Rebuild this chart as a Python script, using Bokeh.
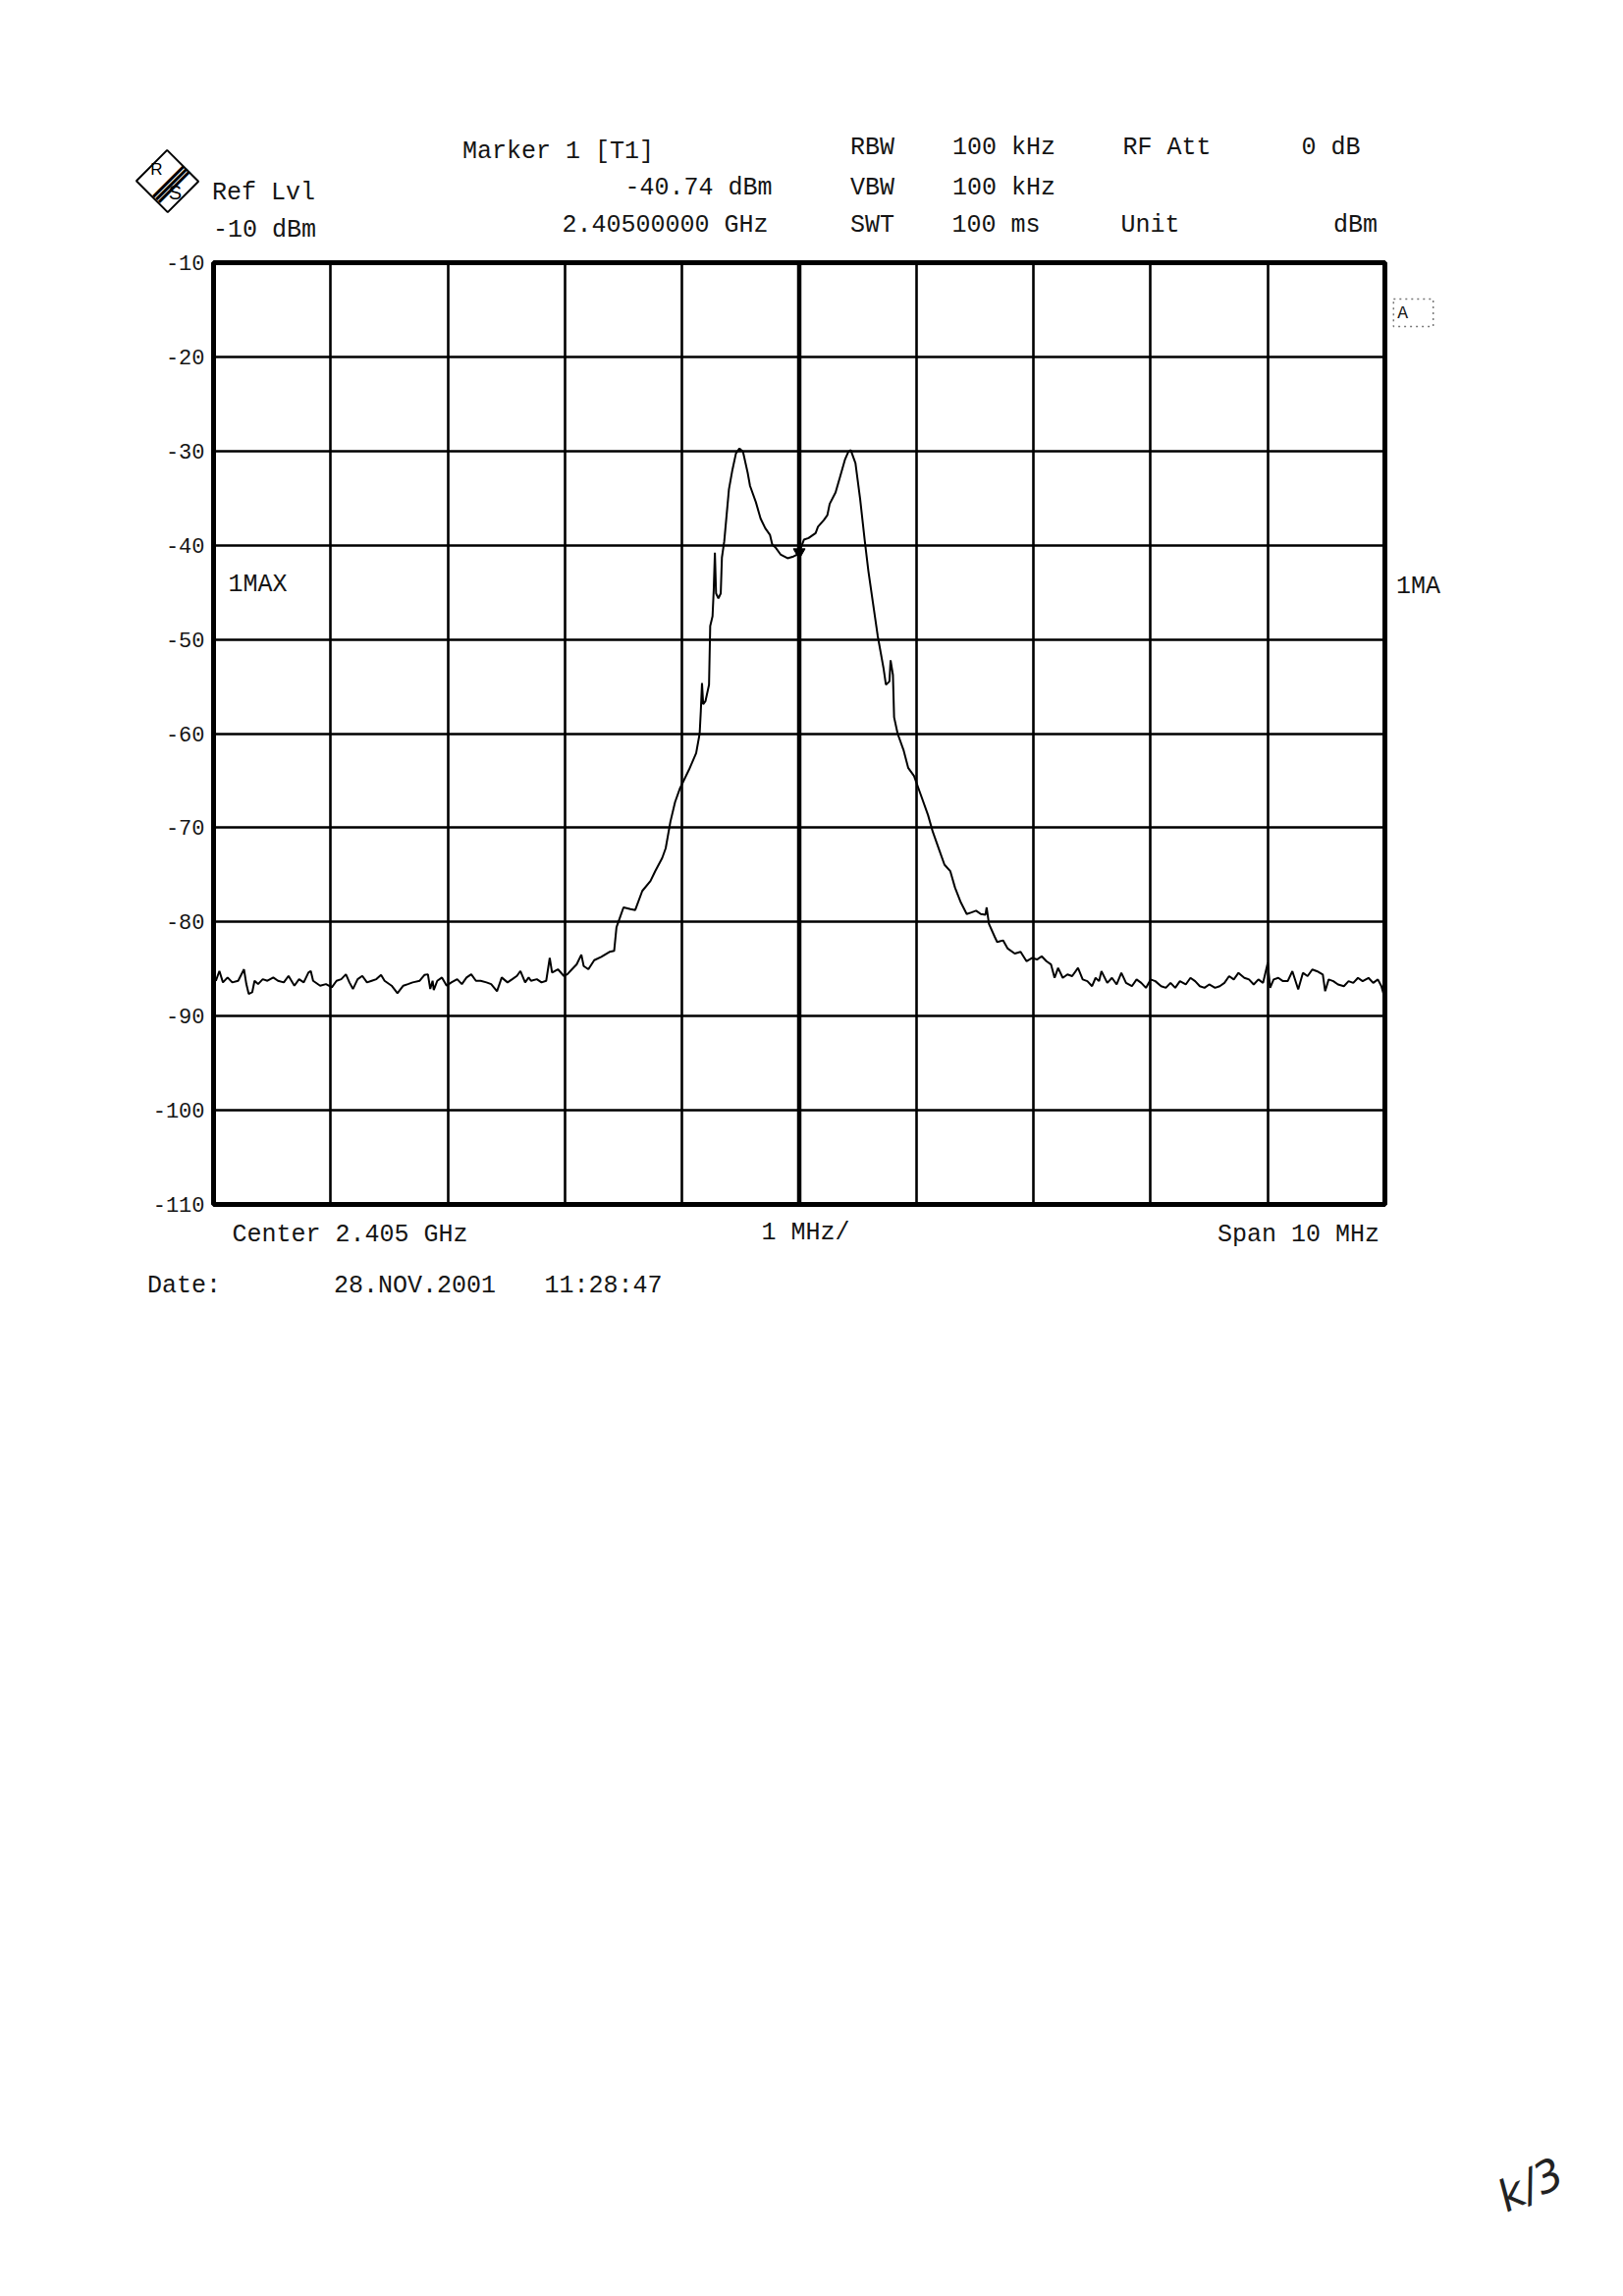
import math
import numpy as np
from bokeh.plotting import figure
from bokeh.models import Range1d, FixedTicker, Label, Span
from bokeh.layouts import column, row
from bokeh.embed import file_html
from bokeh.resources import INLINE

# ---------------- data ----------------
center_freq_mhz = 2405.0
span_mhz = 10.0
ref_level_dbm = -10
bottom_level_dbm = -110
level_ticks = [-10, -20, -30, -40, -50, -60, -70, -80, -90, -100, -110]
level_tick_labels = ["-10", "-20", "-30", "-40", "-50", "-60", "-70", "-80", "-90", "-100", "-110"]
freq_grid_offsets_mhz = [0, 1, 2, 3, 4, 5, 6, 7, 8, 9, 10]

trace_offset_mhz = [
    0.00, 0.02, 0.05, 0.08, 0.12, 0.16, 0.21, 0.26, 0.28, 0.30, 0.33, 0.35, 0.38, 0.42, 0.46,
    0.51, 0.55, 0.60, 0.64, 0.69, 0.73, 0.77, 0.81, 0.83, 0.85, 0.91, 0.96, 1.01, 1.05, 1.09,
    1.13, 1.16, 1.19, 1.23, 1.27, 1.31, 1.35, 1.39, 1.43, 1.46, 1.52, 1.57, 1.62, 1.66, 1.70,
    1.76, 1.80, 1.83, 1.85, 1.87, 1.88, 1.91, 1.95, 1.99, 2.03, 2.08, 2.12, 2.16, 2.20, 2.24,
    2.28, 2.33, 2.37, 2.42, 2.46, 2.51, 2.55, 2.59, 2.62, 2.66, 2.69, 2.71, 2.76, 2.80, 2.84,
    2.87, 2.89, 2.94, 2.99, 3.02, 3.06, 3.10, 3.14, 3.16, 3.20, 3.25, 3.31, 3.38, 3.42, 3.44,
    3.47, 3.50, 3.56, 3.60, 3.66, 3.73, 3.77, 3.83, 3.86, 3.90, 3.94, 3.98, 4.06, 4.12, 4.15,
    4.16, 4.17, 4.18, 4.20, 4.23, 4.24, 4.26, 4.27, 4.28, 4.29, 4.31, 4.33, 4.34, 4.36, 4.38,
    4.40, 4.43, 4.46, 4.49, 4.52, 4.56, 4.58, 4.63, 4.67, 4.71, 4.75, 4.77, 4.80, 4.84, 4.90,
    4.95, 4.98, 5.00, 5.04, 5.08, 5.14, 5.16, 5.21, 5.24, 5.26, 5.31, 5.35, 5.39, 5.42, 5.44,
    5.48, 5.52, 5.56, 5.59, 5.63, 5.67, 5.72, 5.74, 5.77, 5.78, 5.80, 5.81, 5.84, 5.89, 5.93,
    5.98, 6.03, 6.10, 6.14, 6.20, 6.24, 6.29, 6.33, 6.38, 6.43, 6.47, 6.51, 6.55, 6.59, 6.60,
    6.62, 6.67, 6.69, 6.74, 6.78, 6.84, 6.89, 6.94, 6.99, 7.03, 7.07, 7.11, 7.15, 7.18, 7.21,
    7.25, 7.29, 7.33, 7.38, 7.42, 7.46, 7.50, 7.53, 7.56, 7.58, 7.63, 7.67, 7.71, 7.75, 7.79,
    7.84, 7.88, 7.92, 7.96, 8.00, 8.04, 8.09, 8.13, 8.17, 8.21, 8.25, 8.30, 8.34, 8.38, 8.42,
    8.46, 8.50, 8.55, 8.59, 8.63, 8.67, 8.71, 8.75, 8.80, 8.84, 8.88, 8.92, 8.96, 9.00, 9.02,
    9.05, 9.09, 9.13, 9.17, 9.21, 9.26, 9.30, 9.34, 9.38, 9.42, 9.47, 9.49, 9.52, 9.56, 9.60,
    9.65, 9.69, 9.73, 9.77, 9.81, 9.86, 9.90, 9.94, 9.97, 9.99, 10.00,
]
trace_level_dbm = [
    -85.70, -86.25, -85.21, -86.42, -85.90, -86.42, -86.25, -85.03, -86.60, -87.64, -87.47, -86.25, -86.60, -86.08, -86.25,
    -85.90, -86.25, -86.42, -85.73, -86.77, -86.08, -86.42, -85.38, -85.21, -86.25, -86.77, -86.60, -86.94, -86.25, -86.08,
    -85.56, -86.42, -87.12, -86.08, -85.73, -86.42, -86.25, -86.08, -85.63, -86.25, -86.77, -87.57, -86.77, -86.60, -86.42,
    -86.25, -85.63, -85.56, -87.12, -86.25, -87.22, -86.25, -85.90, -86.77, -86.42, -86.08, -86.60, -85.90, -85.56, -86.25,
    -86.25, -86.42, -86.60, -87.36, -85.90, -86.42, -86.08, -85.73, -85.21, -86.42, -85.90, -86.25, -86.08, -86.42, -86.25,
    -83.82, -85.38, -85.03, -85.73, -85.56, -85.03, -84.51, -83.47, -84.69, -85.03, -84.06, -83.71, -83.18, -83.08, -80.56,
    -79.51, -78.46, -78.64, -78.74, -76.71, -75.66, -74.62, -73.22, -72.17, -69.37, -67.27, -65.87, -63.81, -62.08, -60.00,
    -57.58, -54.64, -56.89, -56.54, -54.81, -48.58, -47.54, -44.78, -40.80, -45.12, -45.64, -45.12, -41.31, -39.58, -36.82,
    -34.05, -31.97, -30.24, -29.72, -30.07, -32.32, -33.70, -35.43, -37.16, -38.20, -38.89, -39.93, -40.28, -40.97, -41.38,
    -41.20, -41.00, -40.74, -39.41, -39.24, -38.72, -38.03, -37.34, -36.82, -35.61, -34.40, -32.68, -30.93, -30.07, -29.90,
    -31.28, -35.09, -39.58, -42.70, -46.16, -49.62, -53.08, -54.81, -54.46, -52.21, -53.77, -58.27, -60.00, -61.73, -63.63,
    -64.50, -66.23, -68.67, -70.42, -72.52, -73.92, -74.62, -76.36, -77.94, -79.16, -78.99, -78.81, -79.16, -79.23, -78.46,
    -80.21, -81.61, -82.13, -81.96, -82.83, -83.36, -83.18, -84.17, -83.82, -83.99, -83.64, -84.17, -84.52, -85.94, -84.88,
    -85.94, -85.58, -85.76, -84.88, -86.11, -86.29, -86.82, -85.94, -86.29, -85.23, -86.47, -85.94, -86.64, -85.41, -86.47,
    -86.82, -86.11, -86.47, -87.00, -86.11, -86.29, -86.82, -87.00, -86.47, -87.00, -86.29, -86.64, -85.94, -86.29, -86.82,
    -87.00, -86.64, -87.00, -86.82, -86.47, -85.76, -86.11, -85.41, -85.94, -86.11, -86.64, -86.11, -86.47, -84.35, -87.00,
    -86.11, -85.94, -86.29, -86.29, -85.23, -87.17, -85.41, -85.76, -85.05, -85.23, -85.58, -87.35, -86.11, -86.29, -86.64,
    -86.82, -86.29, -86.47, -85.94, -86.29, -85.94, -86.47, -86.11, -86.82, -87.70, -87.90,
]
marker_offset_mhz = [5.0]
marker_level_dbm = [-40.74]

# texts of the instrument screen: (text, centre x, centre y) in page pixels
header_texts = [
    ("Marker 1 [T1]", 576, 162),
    ("Ref Lvl", 276, 204),
    ("-40.74 dBm", 719, 199),
    ("-10 dBm", 277, 242),
    ("2.40500000 GHz", 685, 237),
    ("RBW", 896, 158),
    ("100 kHz", 1030, 158),
    ("RF Att", 1196, 158),
    ("0 dB", 1363, 158),
    ("VBW", 896, 199),
    ("100 kHz", 1030, 199),
    ("SWT", 896, 237),
    ("100 ms", 1022, 237),
    ("Unit", 1179, 237),
    ("dBm", 1388, 237),
]
side_texts = [("1MA", 1452, 591)]
frame_texts = [("1MAX", 270, 603)]
footer_texts = [
    ("Center 2.405 GHz", 364, 1265),
    ("1 MHz/", 828, 1263),
    ("Span 10 MHz", 1330, 1265),
    ("Date:", 195, 1317),
    ("28.NOV.2001", 430, 1317),
    ("11:28:47", 622, 1317),
]

# ---------------- layout (page pixels) ----------------
MARGIN = 8
PAGE_W, PAGE_H = 1637, 2320
FRAME_L, FRAME_R, FRAME_T, FRAME_B = 225, 1418, 275, 1234
MAIN_TOP_PAD, MAIN_BOTTOM_PAD, MAIN_RIGHT_PAD = 14, 16, 3
HEADER_H = FRAME_T - MARGIN - MAIN_TOP_PAD
MAIN_W = (FRAME_L - MARGIN) + (FRAME_R - FRAME_L) + MAIN_RIGHT_PAD
MAIN_H = MAIN_TOP_PAD + (FRAME_B - FRAME_T) + MAIN_BOTTOM_PAD
SIDE_W = PAGE_W - MAIN_W
FOOTER_H = PAGE_H - HEADER_H - MAIN_H

FONT = "Liberation Mono"
TEXT_SIZE = "25px"
INK = "#151515"

x_start = center_freq_mhz - span_mhz / 2
x_end = center_freq_mhz + span_mhz / 2


def panel(w, h):
    f = figure(frame_width=w, frame_height=h, min_border=0,
               x_range=Range1d(0, w), y_range=Range1d(h, 0),
               x_axis_type=None, y_axis_type=None,
               output_backend="svg", toolbar_location=None)
    f.outline_line_color = None
    f.background_fill_color = "white"
    f.border_fill_color = "white"
    return f


def put_texts(f, texts, ox, oy, size=TEXT_SIZE):
    for txt, cx, cy in texts:
        f.add_layout(Label(x=cx - ox, y=cy - oy, text=txt, text_font=FONT, text_font_size=size,
                           text_color=INK, text_align="center", text_baseline="middle"))


# ---- header panel ----
head = panel(PAGE_W, HEADER_H)
put_texts(head, header_texts, MARGIN, MARGIN)

# R&S logo
LOGO_X, LOGO_Y = 178 - MARGIN, 192 - MARGIN
head.add_layout(Label(x=LOGO_X, y=LOGO_Y, text=" ", text_font_size="1px",
                      text_align="center", text_baseline="middle", angle=math.pi / 4,
                      border_line_color="black", border_line_width=2, padding=22))
for off in (-4, 0, 4):
    head.add_layout(Label(x=LOGO_X + 1 + off * 0.707, y=LOGO_Y + off * 0.707, text="\u2014",
                          text_font="Liberation Sans", text_font_size="44px", text_color="black",
                          text_align="center", text_baseline="middle", angle=math.pi / 4))
head.add_layout(Label(x=167 - MARGIN, y=180 - MARGIN, text="R", text_font="Liberation Sans",
                      text_font_size="17px", text_color="black", text_align="center", text_baseline="middle"))
head.add_layout(Label(x=186 - MARGIN, y=203 - MARGIN, text="S", text_font="Liberation Sans",
                      text_font_size="20px", text_color="black", text_align="center", text_baseline="middle"))

# ---- main plot ----
p = figure(
    frame_width=FRAME_R - FRAME_L,
    frame_height=FRAME_B - FRAME_T,
    min_border_left=FRAME_L - MARGIN,
    min_border_right=MAIN_RIGHT_PAD,
    min_border_top=MAIN_TOP_PAD,
    min_border_bottom=MAIN_BOTTOM_PAD,
    x_range=Range1d(x_start, x_end),
    y_range=Range1d(bottom_level_dbm, ref_level_dbm),
    output_backend="svg",
    toolbar_location=None,
)
p.background_fill_color = "white"
p.border_fill_color = "white"
p.outline_line_color = "black"
p.outline_line_width = 5

p.xaxis.visible = False
p.xgrid.ticker = FixedTicker(ticks=[x_start + o for o in freq_grid_offsets_mhz])
p.ygrid.ticker = FixedTicker(ticks=level_ticks)
for g in (p.xgrid, p.ygrid):
    g.grid_line_color = "black"
    g.grid_line_width = 2.6
    g.grid_line_alpha = 1.0

ax = p.yaxis[0]
ax.ticker = FixedTicker(ticks=level_ticks)
ax.major_label_overrides = {t: s for t, s in zip(level_ticks, level_tick_labels)}
ax.major_label_text_font = FONT
ax.major_label_text_font_size = "22px"
ax.major_label_text_color = INK
ax.major_label_standoff = 3
ax.axis_line_color = None
ax.major_tick_line_color = None
ax.minor_tick_line_color = None

p.add_layout(Span(location=center_freq_mhz, dimension="height", line_color="black", line_width=4.5))

freq_mhz = x_start + np.array(trace_offset_mhz)
p.line(freq_mhz, trace_level_dbm, line_color="black", line_width=2)
p.scatter(x_start + np.array(marker_offset_mhz), marker_level_dbm, marker="inverted_triangle",
          size=12, fill_color="black", line_color="black")


def dx(px):
    return x_start + (px - FRAME_L) / (FRAME_R - FRAME_L) * span_mhz


def dy(py):
    return ref_level_dbm - (py - FRAME_T) / (FRAME_B - FRAME_T) * (ref_level_dbm - bottom_level_dbm)


for txt, cx, cy in frame_texts:
    p.add_layout(Label(x=dx(cx), y=dy(cy), text=txt, text_font=FONT, text_font_size=TEXT_SIZE,
                       text_color=INK, text_align="center", text_baseline="middle"))

# ---- side panel (right of the frame) ----
SIDE_OX = MARGIN + MAIN_W
SIDE_OY = MARGIN + HEADER_H
side = panel(SIDE_W, MAIN_H)
put_texts(side, side_texts, SIDE_OX, SIDE_OY)
side.add_layout(Label(x=1447 - SIDE_OX, y=312 - SIDE_OY, text=" A ", text_font=FONT, text_font_size="18px",
                      text_color=INK, text_align="center", text_baseline="middle",
                      border_line_color="#777777", border_line_dash="dotted", border_line_width=1.5,
                      padding=4))

# ---- footer panel ----
FOOT_OY = MARGIN + HEADER_H + MAIN_H
foot = panel(PAGE_W, FOOTER_H)
put_texts(foot, footer_texts, MARGIN, FOOT_OY)
# handwritten page note at the bottom right
foot.add_layout(Label(x=1566 - MARGIN, y=2232 - FOOT_OY, text="k/3", text_font="DejaVu Sans",
                      text_font_style="italic", text_font_size="44px", text_color="#222222",
                      text_align="center", text_baseline="middle", angle=math.pi / 7))

layout = column(head, row(p, side), foot)
open("out.html", "w").write(file_html(layout, INLINE))
